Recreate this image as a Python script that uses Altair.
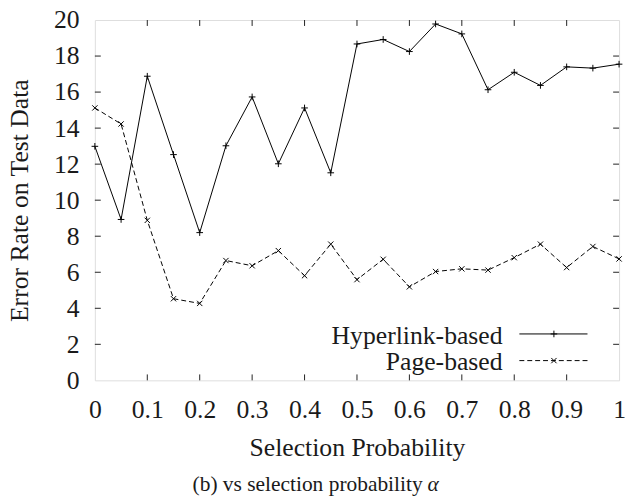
import altair as alt
import pandas as pd

# ---- data ----
alpha = [0, 0.05, 0.1, 0.15, 0.2, 0.25, 0.3, 0.35, 0.4, 0.45, 0.5,
         0.55, 0.6, 0.65, 0.7, 0.75, 0.8, 0.85, 0.9, 0.95, 1.0]
hyperlink = [12.99, 8.93, 16.88, 12.53, 8.2, 13.02, 15.73, 12.02, 15.12, 11.52, 18.67,
             18.92, 18.25, 19.78, 19.23, 16.13, 17.1, 16.37, 17.4, 17.33, 17.55]
page = [15.12, 14.23, 8.88, 4.53, 4.27, 6.65, 6.36, 7.2, 5.81, 7.56, 5.59,
        6.72, 5.19, 6.04, 6.19, 6.12, 6.81, 7.56, 6.26, 7.43, 6.74]
series_names = ["Hyperlink-based", "Page-based"]
x_ticks = [0, 0.1, 0.2, 0.3, 0.4, 0.5, 0.6, 0.7, 0.8, 0.9, 1]
y_ticks = [0, 2, 4, 6, 8, 10, 12, 14, 16, 18, 20]
x_title = "Selection Probability"
y_title = "Error Rate on Test Data"
caption = "(b) vs selection probability"
caption_symbol = "α"

FONT = "Liberation Serif"
INK = "#1a1a1a"
W, H = 531, 365

df = pd.DataFrame({
    "alpha": alpha * 2,
    "error": hyperlink + page,
    "series": [series_names[0]] * len(alpha) + [series_names[1]] * len(alpha),
})
hl = df[df.series == series_names[0]]
pg = df[df.series == series_names[1]]

xs = alt.Scale(domain=[0, 1], nice=False, zero=False)
ys = alt.Scale(domain=[0, 20], nice=False)

PLUS = "M-1,0L1,0M0,-1L0,1"
CROSS = "M-0.8,-0.8L0.8,0.8M-0.8,0.8L0.8,-0.8"

x_axis = alt.Axis(values=x_ticks, format="~g", ticks=False, domain=False, grid=False,
                  labelFont=FONT, labelFontSize=26, labelColor=INK, labelPadding=17,
                  labelFlush=False, labelOverlap=False,
                  title=x_title, titleFont=FONT, titleFontSize=26, titleFontWeight="normal",
                  titleColor=INK, titleBaseline="alphabetic", titleY=76)
y_axis = alt.Axis(values=y_ticks, ticks=False, domain=False, grid=False,
                  labelFont=FONT, labelFontSize=26, labelColor=INK, labelPadding=16,
                  labelOverlap=False,
                  title=y_title, titleFont=FONT, titleFontSize=26, titleFontWeight="normal",
                  titleColor=INK, titleBaseline="alphabetic", titleX=-68)


def X(field):
    return alt.X(field, scale=xs, axis=x_axis, title=x_title)


def Y(field):
    return alt.Y(field, scale=ys, axis=y_axis, title=y_title)


line_hl = alt.Chart(hl).mark_line(color="black", strokeWidth=1).encode(
    x=X("alpha:Q"), y=Y("error:Q"))
pts_hl = alt.Chart(hl).mark_point(shape=PLUS, size=45, filled=False, color="black",
                                  strokeWidth=1, opacity=1).encode(
    x=X("alpha:Q"), y=Y("error:Q"))
line_pg = alt.Chart(pg).mark_line(color="black", strokeWidth=1, strokeDash=[5, 3]).encode(
    x=X("alpha:Q"), y=Y("error:Q"))
pts_pg = alt.Chart(pg).mark_point(shape=CROSS, size=45, filled=False, color="black",
                                  strokeWidth=1, opacity=1).encode(
    x=X("alpha:Q"), y=Y("error:Q"))

# inward ticks on all four sides
xt = pd.DataFrame({"v": x_ticks[1:-1]})
yt = pd.DataFrame({"v": y_ticks[1:-1]})
TL = 6
tick_layers = [
    alt.Chart(xt).mark_rule(color="#222", strokeWidth=1).encode(
        x=X("v:Q"), y=alt.value(H), y2=alt.value(H - TL)),
    alt.Chart(xt).mark_rule(color="#222", strokeWidth=1).encode(
        x=X("v:Q"), y=alt.value(0), y2=alt.value(TL)),
    alt.Chart(yt).mark_rule(color="#222", strokeWidth=1).encode(
        y=Y("v:Q"), x=alt.value(0), x2=alt.value(TL)),
    alt.Chart(yt).mark_rule(color="#222", strokeWidth=1).encode(
        y=Y("v:Q"), x=alt.value(W), x2=alt.value(W - TL)),
]

# legend (label left of sample, as in the reference)
leg = pd.DataFrame({"series": series_names})
leg_layers = []
rows = [(318, 328, None, PLUS), (345, 355, [5, 3], CROSS)]
for name, (ly, ty, dash, shp) in zip(series_names, rows):
    d = leg[leg.series == name]
    leg_layers.append(alt.Chart(d).mark_text(align="right", baseline="alphabetic", font=FONT,
                                             fontSize=26, color=INK).encode(
        text="series:N", x=alt.value(413), y=alt.value(ty)))
    rule_kw = dict(color="black", strokeWidth=1)
    if dash:
        rule_kw["strokeDash"] = dash
    leg_layers.append(alt.Chart(d).mark_rule(**rule_kw).encode(
        x=alt.value(430), x2=alt.value(499), y=alt.value(ly)))
    leg_layers.append(alt.Chart(d).mark_point(shape=shp, size=45, filled=False, color="black",
                                              strokeWidth=1, opacity=1).encode(
        x=alt.value(465), y=alt.value(ly)))

# caption below the figure
cap_df = pd.DataFrame({"t": [caption], "s": [caption_symbol]})
cap_main = alt.Chart(cap_df).mark_text(align="right", baseline="alphabetic", font=FONT,
                                       fontSize=21.7, color=INK).encode(
    text="t:N", x=alt.value(332), y=alt.value(477))
cap_sym = alt.Chart(cap_df).mark_text(align="left", baseline="alphabetic", font=FONT,
                                      fontSize=21.7, fontStyle="italic", color=INK).encode(
    text="s:N", x=alt.value(337), y=alt.value(477))

chart = alt.layer(line_hl, pts_hl, line_pg, pts_pg, *tick_layers, *leg_layers,
                  cap_main, cap_sym).properties(
    width=W, height=H,
    autosize=alt.AutoSizeParams(type="none"),
    padding={"left": 88, "top": 9, "right": 6, "bottom": 116},
).configure_view(stroke="#222", strokeWidth=1.5).configure(background="white")

chart.save("out.html", embed_options={"renderer": "svg", "actions": False})
